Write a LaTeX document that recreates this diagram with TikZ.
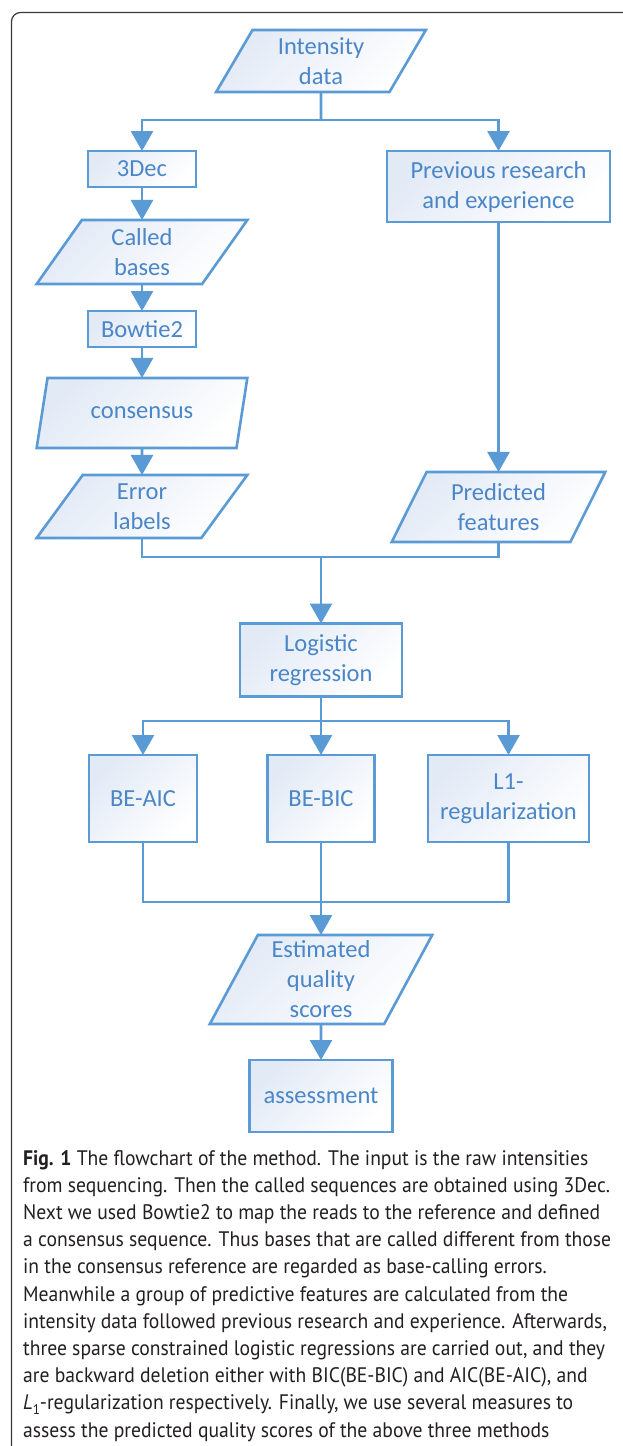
\documentclass[tikz,border=0pt]{standalone}
\usepackage{fontspec}
\setmainfont{Carlito}
\newfontfamily\capfont[FakeStretch=0.935]{PT Sans}
\usetikzlibrary{arrows.meta,shapes.geometric}
\definecolor{lineblue}{HTML}{5B9BD5}
\definecolor{textblue}{HTML}{4A86C8}
\definecolor{fillblue}{HTML}{E2EAF6}
\definecolor{capblack}{HTML}{231F20}
\definecolor{framegray}{HTML}{3A3A3A}
\begin{document}
\begin{tikzpicture}[x=1pt,y=-1pt,
  base/.style={draw=lineblue, line width=2.6pt, top color=fillblue, bottom color=white, shading angle=45,
    text=textblue, font=\fontsize{24.5}{30}\selectfont, align=center, inner sep=0pt, outer sep=0pt},
  rbox/.style={base, rectangle},
  pbox/.style={base, trapezium, trapezium left angle=64, trapezium right angle=116, trapezium stretches=true},
  conn/.style={draw=lineblue, line width=2.6pt},
  arr/.style={conn, -{Triangle[width=22pt,length=20pt]}},
  capline/.style={anchor=base west, inner sep=0pt, text=capblack, font=\capfont\fontsize{21}{27}\selectfont},
]
\useasboundingbox (0,0) rectangle (623,1446);
\fill[white] (0,0) rectangle (623,1446);
% frame
\draw[framegray, line width=1.2pt, rounded corners=9pt] (11.5,1450) -- (11.5,12.5) -- (630,12.5);

% nodes
\node[pbox, minimum width=210pt, minimum height=62pt] (int) at (321,61) {Intensity\\data};
\node[rbox, minimum width=108pt, minimum height=36pt] (dec) at (142,169) {3Dec};
\node[pbox, minimum width=211pt, minimum height=64pt] (called) at (142,252) {Called\\bases};
\node[rbox, minimum width=108pt, minimum height=36pt] (bow) at (142,329) {Bowtie2};
\node[pbox, minimum width=211pt, minimum height=70pt] (cons) at (142,413) {consensus};
\node[pbox, minimum width=211pt, minimum height=63pt] (err) at (142,506.5) {Error\\labels};
\node[rbox, minimum width=223pt, minimum height=71pt] (prev) at (498.5,186.5) {Previous research\\and experience};
\node[pbox, minimum width=214pt, minimum height=70pt] (pred) at (498.5,507) {Predicted\\features};
\node[rbox, minimum width=162pt, minimum height=73pt] (log) at (321,660) {Logistic\\regression};
\node[rbox, minimum width=108pt, minimum height=87pt] (aic) at (143,798.5) {BE-AIC};
\node[rbox, minimum width=107pt, minimum height=87pt] (bic) at (321,798.5) {BE-BIC};
\node[rbox, minimum width=161pt, minimum height=87pt] (l1) at (508.5,798.5) {L1-\\regularization};
\node[pbox, minimum width=223pt, minimum height=89pt] (est) at (321,979.5) {Estimated\\quality\\scores};
\node[rbox, minimum width=143pt, minimum height=72pt] (ass) at (321,1096) {assessment};

% junctions
\coordinate (j1) at (321,120);
\coordinate (j2) at (321,557);
\coordinate (j3) at (321,721);
\coordinate (j4) at (321,902);

% connectors
\draw[conn] (int.south) -- (j1);
\draw[arr] (j1) -| (dec.north);
\draw[arr] (j1) -| (prev.north);
\draw[arr] (dec) -- (called);
\draw[arr] (called) -- (bow);
\draw[arr] (bow) -- (cons);
\draw[arr] (cons) -- (err);
\draw[arr] (prev) -- (pred);
\draw[conn] (err.south) -- (err.south |- j2) -- (pred.south |- j2) -- (pred.south);
\draw[arr] (j2) -- (log);
\draw[conn] (log.south) -- (j3);
\draw[arr] (j3) -| (aic.north);
\draw[arr] (j3) -| (l1.north);
\draw[arr] (j3) -- (bic);
\draw[conn] (aic.south) -- (aic.south |- j4) -- (l1.south |- j4) -- (l1.south);
\draw[arr] (bic) -- (est);
\draw[arr] (est) -- (ass);

% caption
\node[capline] (c1) at (23,1165) {{\bfseries Fig. 1} The flowchart of the method. The input is the raw intensities};
\node[capline] (c2) at (23,1192.2) {from sequencing. Then the called sequences are obtained using 3Dec.};
\node[capline] (c3) at (23,1219.4) {Next we used Bowtie2 to map the reads to the reference and defined};
\node[capline] (c4) at (23,1246.6) {a consensus sequence. Thus bases that are called different from those};
\node[capline] (c5) at (23,1273.8) {in the consensus reference are regarded as base-calling errors.};
\node[capline] (c6) at (23,1301) {Meanwhile a group of predictive features are calculated from the};
\node[capline] (c7) at (23,1328.2) {intensity data followed previous research and experience. Afterwards,};
\node[capline] (c8) at (23,1355.4) {three sparse constrained logistic regressions are carried out, and they};
\node[capline] (c9) at (23,1382.6) {are backward deletion either with BIC(BE-BIC) and AIC(BE-AIC), and};
\node[capline] (c10) at (23,1409.8) {{\itshape L}\raisebox{-0.2em}{\fontsize{14}{14}\selectfont 1}-regularization respectively. Finally, we use several measures to};
\node[capline] (c11) at (23,1437) {assess the predicted quality scores of the above three methods};
\end{tikzpicture}
\end{document}
